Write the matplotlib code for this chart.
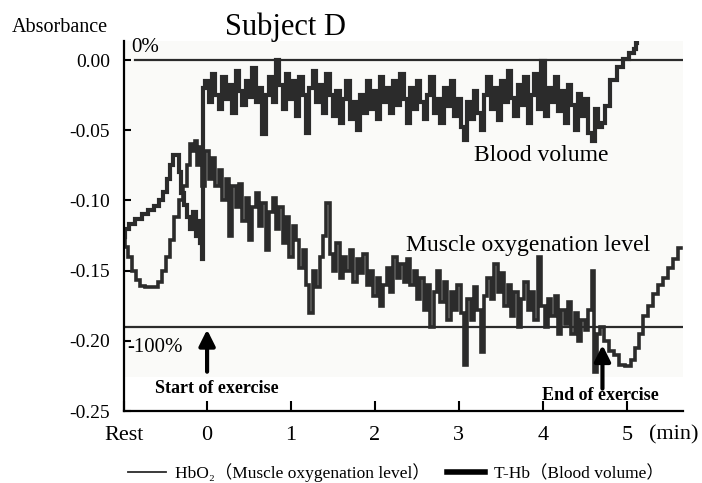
import numpy as np
import matplotlib.pyplot as plt
from matplotlib.lines import Line2D

plt.rcParams['font.family'] = ['Liberation Serif', 'Noto Sans CJK JP', 'DejaVu Sans']
plt.rcParams['axes.unicode_minus'] = False

# Rest phase (min, absorbance)
rest_t_thb = [-1.00, -0.95, -0.90, -0.82, -0.74, -0.66, -0.60, -0.55, -0.50, -0.46, -0.42, -0.39,
              -0.35, -0.32, -0.29, -0.26, -0.22, -0.18, -0.15, -0.12, -0.09, -0.07, -0.05, -0.04]
rest_thb = [-0.126, -0.120, -0.117, -0.113, -0.110, -0.107, -0.104, -0.100, -0.094, -0.085, -0.075, -0.068,
            -0.068, -0.080, -0.095, -0.103, -0.112, -0.120, -0.108, -0.125, -0.115, -0.130, -0.142, -0.020]

rest_t_hbo2 = [-1.00, -0.96, -0.92, -0.87, -0.83, -0.78, -0.70, -0.62, -0.56, -0.52, -0.47, -0.42,
               -0.36, -0.31, -0.26, -0.22, -0.19, -0.16, -0.13, -0.10, -0.07, -0.04]
rest_hbo2 = [-0.128, -0.133, -0.140, -0.150, -0.157, -0.161, -0.162, -0.162, -0.158, -0.150, -0.140, -0.128,
             -0.112, -0.100, -0.090, -0.075, -0.060, -0.065, -0.058, -0.075, -0.062, -0.090]

# Exercise phase, sampled every 0.04 min from 0
ex_step = 0.04
ex_thb = [-0.015, -0.030, -0.010, -0.025, -0.035, -0.012, -0.028, -0.018, -0.038, -0.008,
          -0.022, -0.032, -0.015, -0.026, -0.006, -0.030, -0.020, -0.053, -0.025, -0.012,
          -0.030, 0.000, -0.018, -0.035, -0.010, -0.028, -0.015, -0.040, -0.012, -0.025,
          -0.052, -0.020, -0.008, -0.030, -0.018, -0.038, -0.010, -0.025, -0.040, -0.022,
          -0.045, -0.028, -0.015, -0.042, -0.030, -0.050, -0.025, -0.038, -0.015, -0.035,
          -0.022, -0.042, -0.012, -0.030, -0.020, -0.038, -0.015, -0.032, -0.010, -0.028,
          -0.045, -0.020, -0.035, -0.015, -0.030, -0.042, -0.025, -0.012, -0.038, -0.028,
          -0.045, -0.020, -0.033, -0.015, -0.040, -0.028, -0.048, -0.057, -0.030, -0.042,
          -0.022, -0.038, -0.050, -0.025, -0.012, -0.035, -0.020, -0.043, -0.015, -0.030,
          -0.008, -0.027, -0.040, -0.018, -0.032, -0.012, -0.045, -0.025, -0.010, -0.035,
          -0.001, -0.040, -0.020, -0.030, -0.012, -0.036, -0.022, -0.045, -0.018, -0.032,
          -0.050, -0.024, -0.040, -0.028, -0.052, -0.058, -0.035, -0.048]
ex_hbo2 = [-0.065, -0.085, -0.070, -0.090, -0.078, -0.100, -0.085, -0.125, -0.090, -0.105,
           -0.088, -0.115, -0.098, -0.128, -0.105, -0.095, -0.118, -0.102, -0.135, -0.108,
           -0.098, -0.120, -0.105, -0.130, -0.112, -0.140, -0.118, -0.128, -0.148, -0.135,
           -0.160, -0.180, -0.150, -0.162, -0.140, -0.125, -0.102, -0.138, -0.150, -0.130,
           -0.155, -0.140, -0.150, -0.135, -0.158, -0.142, -0.152, -0.138, -0.160, -0.150,
           -0.168, -0.155, -0.175, -0.160, -0.148, -0.165, -0.140, -0.155, -0.145, -0.158,
           -0.142, -0.160, -0.150, -0.170, -0.155, -0.178, -0.160, -0.190, -0.165, -0.150,
           -0.172, -0.158, -0.185, -0.165, -0.178, -0.160, -0.180, -0.217, -0.170, -0.185,
           -0.162, -0.178, -0.208, -0.168, -0.155, -0.170, -0.145, -0.165, -0.152, -0.175,
           -0.160, -0.182, -0.165, -0.190, -0.170, -0.158, -0.178, -0.165, -0.185, -0.140,
           -0.175, -0.190, -0.170, -0.182, -0.168, -0.195, -0.178, -0.188, -0.172, -0.195,
           -0.180, -0.200, -0.185, -0.192, -0.178, -0.150]

# Recovery phase
rec_t_thb = [4.72, 4.76, 4.84, 4.92, 5.00, 5.06, 5.10, 5.12]
rec_thb = [-0.045, -0.033, -0.014, -0.005, 0.001, 0.005, 0.008, 0.012]
rec_t_hbo2 = [4.62, 4.66, 4.70, 4.76, 4.82, 4.88, 4.94, 5.02, 5.07, 5.12, 5.16, 5.22,
              5.28, 5.34, 5.40, 5.46, 5.52, 5.58, 5.65]
rec_hbo2 = [-0.222, -0.195, -0.190, -0.200, -0.207, -0.210, -0.217, -0.218, -0.214, -0.205, -0.195, -0.182,
            -0.175, -0.167, -0.160, -0.155, -0.148, -0.142, -0.134]

x_ticks = [-0.99, 0, 1, 2, 3, 4, 5]
x_labels = ['Rest', '0', '1', '2', '3', '4', '5']
y_ticks = [0.0, -0.05, -0.10, -0.15, -0.20, -0.25]
y_labels = ['0.00', '-0.05', '-0.10', '-0.15', '-0.20', '-0.25']

t_thb = np.concatenate([rest_t_thb, np.arange(len(ex_thb)) * ex_step, rec_t_thb])
v_thb = np.concatenate([rest_thb, ex_thb, rec_thb])
t_hbo2 = np.concatenate([rest_t_hbo2, np.arange(len(ex_hbo2)) * ex_step, rec_t_hbo2])
v_hbo2 = np.concatenate([rest_hbo2, ex_hbo2, rec_hbo2])

ink = '#2b2b2b'
fig = plt.figure(figsize=(7.02, 4.83), dpi=100)
ax = fig.add_axes([0.1766, 0.149, 0.7964, 0.766])

# faint scanned-paper background
ax.axhspan(-0.226, 0.0135, color='#fafaf8', zorder=0, lw=0)
ax.plot([-0.86, 5.67], [0, 0], color=ink, lw=1.6)
ax.plot([-0.99, 5.67], [-0.19, -0.19], color=ink, lw=1.6)

ax.plot(t_hbo2, v_hbo2, color=ink, lw=2.6, drawstyle='steps-mid', solid_joinstyle='miter')
ax.plot(t_thb, v_thb, color=ink, lw=3.0, drawstyle='steps-mid', solid_joinstyle='miter')

ax.set_xlim(-0.99, 5.67)
ax.set_ylim(-0.25, 0.0135)
ax.set_xticks(x_ticks, x_labels)
ax.set_yticks(y_ticks, y_labels)
ax.tick_params(axis='x', direction='in', length=7, width=1.5, labelsize=16, pad=11)
ax.tick_params(axis='y', direction='in', length=5, width=1.5, labelsize=14, pad=10)
for s in ['top', 'right']:
    ax.spines[s].set_visible(False)
for s in ['left', 'bottom']:
    ax.spines[s].set_linewidth(1.6)
ax.text(5.56, -0.065, '(min)', transform=ax.get_xaxis_transform(), ha='center', va='center', fontsize=16)

ax.text(-0.90, 0.002, '0%', fontsize=15, va='bottom')
ax.text(-0.95, -0.205, '-100%', fontsize=15, va='center')
ax.text(3.98, -0.068, 'Blood volume', fontsize=17, ha='center', va='center')
ax.text(3.83, -0.132, 'Muscle oxygenation level', fontsize=17, ha='center', va='center')

arrow = dict(arrowstyle='-|>', lw=3, mutation_scale=24, color='black', shrinkA=0, shrinkB=0)
ax.annotate('', xy=(0, -0.192), xytext=(0, -0.222), arrowprops=arrow)
ax.annotate('', xy=(4.71, -0.203), xytext=(4.71, -0.234), arrowprops=arrow)
ax.text(0.12, -0.234, 'Start of exercise', fontsize=13, fontweight='bold', ha='center', va='center')
ax.text(4.68, -0.239, 'End of exercise', fontsize=13, fontweight='bold', ha='center', va='center')

fig.text(0.407, 0.944, 'Subject D', fontsize=22, ha='center', va='center')
fig.text(0.017, 0.944, 'Absorbance', fontsize=14.5, ha='left', va='center')

handles = [Line2D([], [], color=ink, lw=1.3), Line2D([], [], color='black', lw=4)]
labels = ['HbO₂（Muscle oxygenation level）', 'T-Hb（Blood volume）']
fig.legend(handles, labels, loc='center', bbox_to_anchor=(0.564, 0.021), ncol=2, frameon=False,
           fontsize=12.5, handlelength=2.2, columnspacing=1.0, handletextpad=0.5)

plt.savefig('out.png', dpi=100)
